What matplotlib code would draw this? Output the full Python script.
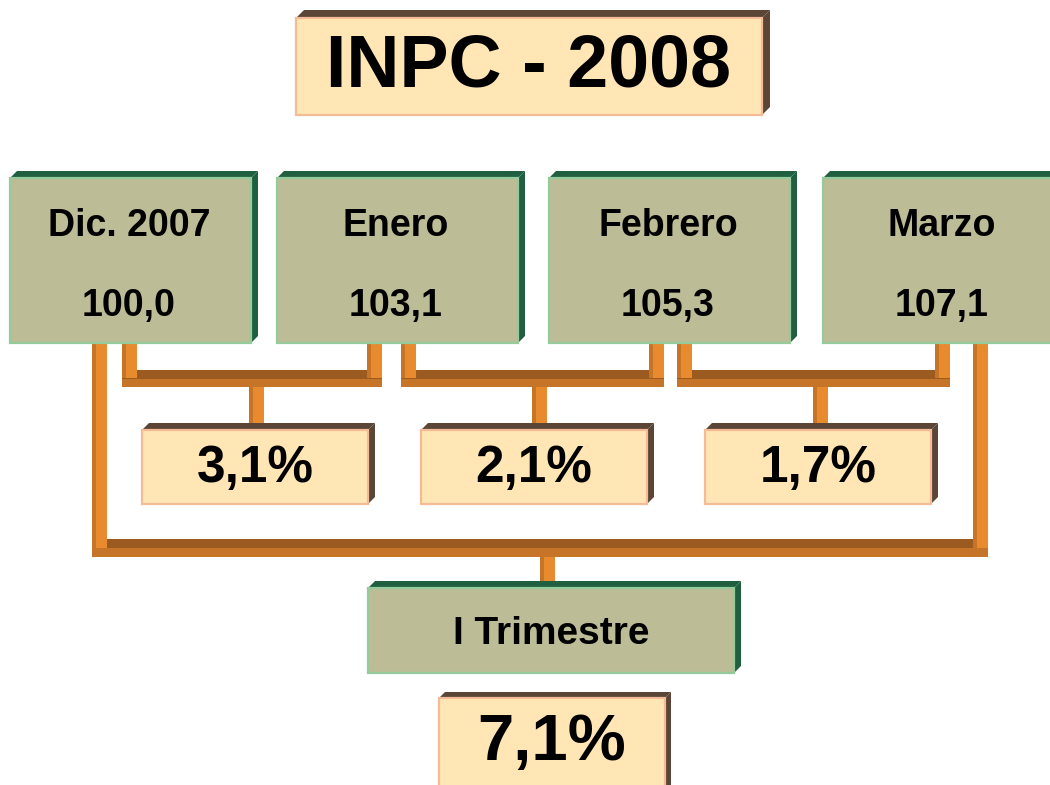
import matplotlib
matplotlib.use('Agg')
import matplotlib.pyplot as plt
from matplotlib.patches import Rectangle, Polygon

# Datos del INPC
title = 'INPC - 2008'
months = ['Dic. 2007', 'Enero', 'Febrero', 'Marzo']
index_values = [100.0, 103.1, 105.3, 107.1]
monthly_change = [3.1, 2.1, 1.7]
quarter_label = 'I Trimestre'
quarter_change = 7.1

# Colores
GREEN_FACE = '#BCBC96'
GREEN_EDGE = '#95CB9B'
GREEN_DARK = '#205F3F'
PEACH_FACE = '#FFE6B4'
PEACH_EDGE = '#F5BB96'
PEACH_DARK = '#5B4536'
PIPE_LIGHT = '#E88A2E'
PIPE_MID = '#C67428'
PIPE_DARK = '#9A5A20'

plt.rcParams['font.family'] = ['Liberation Sans', 'DejaVu Sans']


def fmt(v):
    return f'{v:.1f}'.replace('.', ',')


def box3d(ax, x, y, w, h, face, edge, dark, d=7):
    # caras superior y derecha (sombra 3D)
    ax.add_patch(Polygon([(x, y), (x + d, y - d), (x + w + d, y - d), (x + w, y)],
                         closed=True, facecolor=dark, edgecolor='none'))
    ax.add_patch(Polygon([(x + w, y), (x + w + d, y - d), (x + w + d, y + h - d), (x + w, y + h)],
                         closed=True, facecolor=dark, edgecolor='none'))
    ax.add_patch(Rectangle((x, y), w, h, facecolor=face, edgecolor=edge, lw=1.6))


def vpipe(ax, x0, y0, y1, w=15):
    ax.add_patch(Rectangle((x0, y0), 4, y1 - y0, facecolor=PIPE_MID, edgecolor='none'))
    ax.add_patch(Rectangle((x0 + 4, y0), w - 4, y1 - y0, facecolor=PIPE_LIGHT, edgecolor='none'))


def hpipe(ax, x0, x1, y0, h=18):
    ax.add_patch(Rectangle((x0, y0), x1 - x0, h / 2, facecolor=PIPE_DARK, edgecolor='none'))
    ax.add_patch(Rectangle((x0, y0 + h / 2), x1 - x0, h / 2, facecolor=PIPE_MID, edgecolor='none'))


fig = plt.figure(figsize=(10.5, 7.85), dpi=100)
ax = fig.add_axes([0, 0, 1, 1])
ax.set_xlim(0, 1050)
ax.set_ylim(785, 0)
ax.axis('off')

# conectores
bracket_left = [122, 401, 677]
bracket_right = [367, 649, 935]
bracket_mid = [249, 532, 813]
for xl, xr, xm in zip(bracket_left, bracket_right, bracket_mid):
    hpipe(ax, xl, xr + 15, 370, 17)
    vpipe(ax, xl, 340, 378)
    vpipe(ax, xr, 340, 378)
    vpipe(ax, xm, 387, 432)

hpipe(ax, 92, 988, 539, 18)
vpipe(ax, 92, 340, 548)
vpipe(ax, 973, 340, 548)
vpipe(ax, 540, 557, 590)

# titulo
box3d(ax, 296, 18, 466, 97, PEACH_FACE, PEACH_EDGE, PEACH_DARK, d=8)
ax.text(296 + 233, 18 + 49, title, ha='center', va='center',
        fontsize=53, fontweight='bold', color='black')

# meses
month_x = [10, 277, 549, 823]
for x, name, val in zip(month_x, months, index_values):
    box3d(ax, x, 178, 241, 165, GREEN_FACE, GREEN_EDGE, GREEN_DARK, d=7)
    ax.text(x + 119, 226, name, ha='center', va='center',
            fontsize=27, fontweight='bold', color='black')
    ax.text(x + 119, 306, fmt(val), ha='center', va='center',
            fontsize=27, fontweight='bold', color='black')

# variaciones mensuales
pct_x = [142, 421, 705]
for x, v in zip(pct_x, monthly_change):
    box3d(ax, x, 430, 226, 74, PEACH_FACE, PEACH_EDGE, PEACH_DARK, d=7)
    ax.text(x + 113, 469, fmt(v) + '%', ha='center', va='center',
            fontsize=37, fontweight='bold', color='black')

# trimestre
box3d(ax, 368, 588, 366, 85, GREEN_FACE, GREEN_EDGE, GREEN_DARK, d=7)
ax.text(368 + 183, 634, quarter_label, ha='center', va='center',
        fontsize=28, fontweight='bold', color='black')

box3d(ax, 439, 698, 226, 100, PEACH_FACE, PEACH_EDGE, PEACH_DARK, d=6)
ax.text(439 + 113, 743, fmt(quarter_change) + '%', ha='center', va='center',
        fontsize=47, fontweight='bold', color='black')

fig.savefig('out.png', dpi=100)
